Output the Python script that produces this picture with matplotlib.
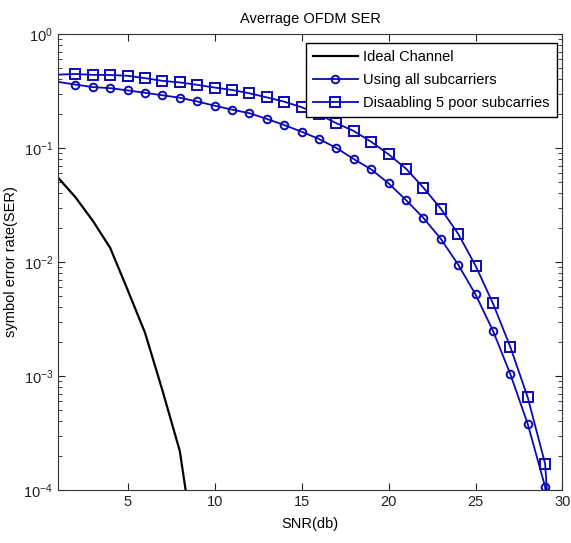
import numpy as np
import matplotlib
matplotlib.use("Agg")
import matplotlib.pyplot as plt

plt.rcParams['font.family'] = ['Liberation Sans', 'DejaVu Sans']

# SNR axis (dB)
snr = np.arange(1, 31)
snr_ideal = np.arange(1, 10)

# symbol error rate
ser_ideal = [0.055, 0.037, 0.023, 0.0133, 0.0057, 0.0024, 0.00075, 0.00022, 2.1e-5]
ser_all = [0.38, 0.36, 0.342, 0.335, 0.32, 0.305, 0.29, 0.276, 0.256, 0.235,
           0.217, 0.202, 0.18, 0.159, 0.139, 0.12, 0.1, 0.08, 0.065, 0.049,
           0.035, 0.0244, 0.016, 0.0095, 0.0052, 0.0025, 0.00104, 0.00038, 0.000107, 2e-7]
ser_disabled = [0.44, 0.446, 0.438, 0.437, 0.43, 0.41, 0.388, 0.376, 0.358, 0.339,
                0.323, 0.302, 0.278, 0.255, 0.228, 0.197, 0.165, 0.141, 0.1135, 0.088,
                0.066, 0.045, 0.0294, 0.0177, 0.0093, 0.00434, 0.0018, 0.00065, 0.00017, 1e-6]

labels = ["Ideal Channel", "Using all subcarriers", "Disaabling 5 poor subcarries"]
blue = "#0a0ab4"

fig = plt.figure(figsize=(5.71, 5.43), dpi=100)
ax = fig.add_axes([0.1016, 0.0976, 0.8835, 0.8398])

ax.semilogy(snr_ideal, ser_ideal, color="black", lw=1.6, label=labels[0])
ax.semilogy(snr, ser_all, color=blue, lw=1.3, marker="o", ms=5.5, mfc="none",
            mew=1.4, markevery=range(1, 30), label=labels[1])
ax.semilogy(snr, ser_disabled, color=blue, lw=1.3, marker="s", ms=6.5, mfc="none",
            mew=1.4, markevery=range(1, 30), label=labels[2])

ax.set_xlim(1, 30)
ax.set_ylim(1e-4, 1)
ax.set_xticks([5, 10, 15, 20, 25, 30])
ax.tick_params(which="both", direction="in", top=True, right=True,
               labelsize=10.5, colors="#222222")
ax.tick_params(which="major", length=5)
ax.tick_params(which="minor", length=3)
for s in ax.spines.values():
    s.set_color("#333333")

ax.set_title("Averrage OFDM SER", fontsize=10.5, pad=8)
ax.set_xlabel("SNR(db)", fontsize=10.5, labelpad=6)
ax.set_ylabel("symbol error rate(SER)", fontsize=10.5, labelpad=4)

leg = ax.legend(loc="upper right", bbox_to_anchor=(0.989, 0.98), fontsize=10.5,
                fancybox=False, framealpha=1, edgecolor="black", borderaxespad=0,
                handlelength=3.1, handletextpad=0.35, labelspacing=0.6, borderpad=0.5)
leg.get_frame().set_linewidth(1.0)

fig.savefig("out.png", dpi=100)
